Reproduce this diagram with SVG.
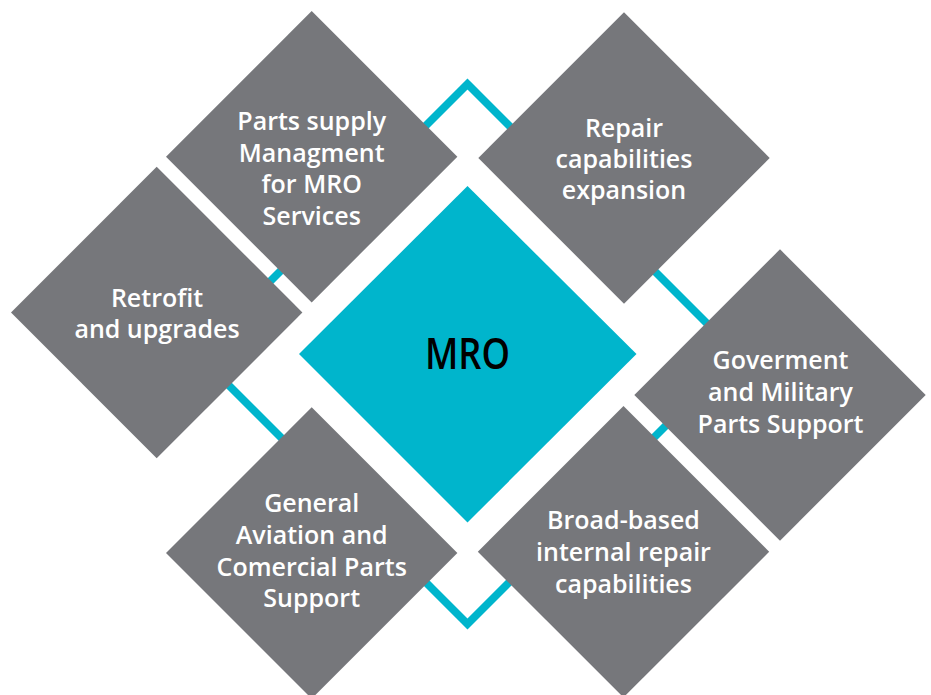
<svg xmlns="http://www.w3.org/2000/svg" width="931" height="695" viewBox="0 0 931 695">
<style>
.ring{fill:none;stroke:#00b5cc;stroke-width:7.8;stroke-linejoin:miter}
.box{fill:#76777b}
.core{fill:#00b5cc}
.lbl{font-family:"Open Sans","Noto Sans","Liberation Sans",sans-serif;font-size:25px;font-weight:600;fill:#ffffff;text-anchor:middle}
.big{font-family:"Open Sans","Noto Sans","Liberation Sans",sans-serif;font-size:44px;font-weight:600;fill:#000000;text-anchor:middle}
</style>
<rect width="931" height="695" fill="#ffffff"/>
<g id="connectors">
<polygon class="ring" points="467.5,84 737.5,354 467.5,624 197.5,354"/>
</g>
<g id="mro">
<polygon class="core" points="467.5,186 636.5,354 467.5,522.5 299,354"/>
<text class="big" x="467.5" y="369" textLength="85" lengthAdjust="spacingAndGlyphs">MRO</text>
</g>
<g id="parts-supply">
<polygon class="box" points="311.7,11 457.4,156.7 311.7,302.4 166,156.7"/>
<text class="lbl" x="311.7" y="130">Parts supply</text>
<text class="lbl" x="311.7" y="161.7">Managment</text>
<text class="lbl" x="311.7" y="193.3">for MRO</text>
<text class="lbl" x="311.7" y="225">Services</text>
</g>
<g id="repair">
<polygon class="box" points="624,12.3 769.7,158 624,303.7 478.3,158"/>
<text class="lbl" x="624" y="136.7">Repair</text>
<text class="lbl" x="624" y="167.7">capabilities</text>
<text class="lbl" x="624" y="199">expansion</text>
</g>
<g id="retrofit">
<polygon class="box" points="156.7,166.8 302.4,312.5 156.7,458.2 11,312.5"/>
<text class="lbl" x="157" y="306.7">Retrofit</text>
<text class="lbl" x="157" y="337.5">and upgrades</text>
</g>
<g id="government">
<polygon class="box" points="780,249.3 925.7,395 780,540.7 634.3,395"/>
<text class="lbl" x="780.5" y="369.3">Goverment</text>
<text class="lbl" x="780.5" y="401">and Military</text>
<text class="lbl" x="780.5" y="433.3">Parts Support</text>
</g>
<g id="general-aviation">
<polygon class="box" points="311.7,407.3 457.4,553 311.7,698.7 166,553"/>
<text class="lbl" x="311.7" y="511.7">General</text>
<text class="lbl" x="311.7" y="544">Aviation and</text>
<text class="lbl" x="311.7" y="575.7">Comercial Parts</text>
<text class="lbl" x="311.7" y="606.7">Support</text>
</g>
<g id="broad-based">
<polygon class="box" points="623.5,406 769.2,551.7 623.5,697.4 477.8,551.7"/>
<text class="lbl" x="623.5" y="529">Broad-based</text>
<text class="lbl" x="623.5" y="561">internal repair</text>
<text class="lbl" x="623.5" y="593">capabilities</text>
</g>
</svg>
